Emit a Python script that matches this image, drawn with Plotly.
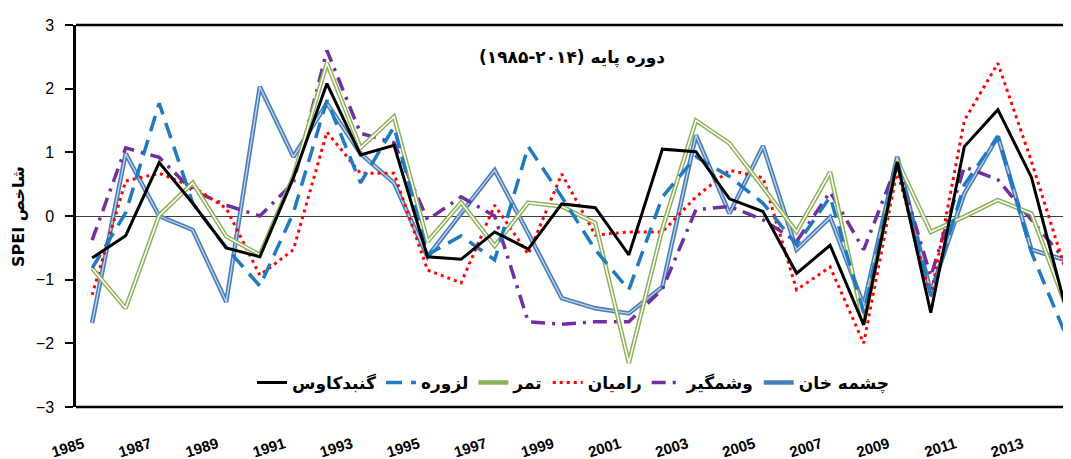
import plotly.graph_objects as go

years = list(range(1985, 2015))

gonbad = [-0.66, -0.31, 0.84, 0.2, -0.5, -0.64, 0.6, 2.08, 0.96, 1.11, -0.64, -0.68, -0.25, -0.52, 0.19,
          0.13, -0.61, 1.05, 1.01, 0.27, 0.07, -0.9, -0.46, -1.71, 0.85, -1.52, 1.09, 1.67, 0.61, -1.4]
lazure = [-0.82, 0.05, 1.77, 0.2, -0.5, -1.1, 0.05, 1.82, 0.52, 1.4, -0.61, -0.31, -0.69, 1.09, 0.3,
          -0.53, -1.16, 0.3, 0.93, 0.62, 0.2, -0.45, 0.3, -1.52, 0.88, -1.25, 0.49, 1.25, -0.57, -1.84]
tamar = [-0.82, -1.45, 0.01, 0.52, -0.32, -0.61, 0.62, 2.4, 1.07, 1.56, -0.4, 0.21, -0.47, 0.21, 0.15,
         -0.11, -2.31, -0.2, 1.5, 1.14, 0.45, -0.25, 0.69, -1.68, 0.87, -0.25, -0.01, 0.25, 0.04, -1.37]
ramian = [-1.24, 0.55, 0.67, 0.46, 0.12, -0.93, -0.53, 1.32, 0.67, 0.67, -0.85, -1.05, 0.17, -0.6, 0.66,
          -0.3, -0.25, -0.25, 0.3, 0.72, 0.6, -1.16, -0.8, -2.0, 0.72, -1.27, 1.5, 2.4, 0.86, -0.82]
voshmgir = [-0.38, 1.07, 0.92, 0.4, 0.17, 0.0, 0.52, 2.6, 1.3, 1.15, -0.06, 0.3, 0.0, -1.66, -1.7,
            -1.66, -1.66, -1.15, 0.1, 0.15, -0.06, -0.4, 0.38, -0.53, 0.82, -0.95, 0.77, 0.57, -0.06, -0.69]
cheshme = [-1.68, 0.98, 0.0, -0.22, -1.35, 2.03, 0.93, 1.77, 0.98, 0.52, -0.64, 0.05, 0.72, -0.27, -1.29,
           -1.45, -1.53, -1.11, 1.27, 0.04, 1.1, -0.53, -0.02, -1.4, 0.93, -1.2, 0.35, 1.25, -0.53, -0.69]

names = ["گنبدکاوس", "لزوره", "تمر", "رامیان", "وشمگیر", "چشمه خان"]
xtick_vals = list(range(1985, 2014, 2))
xtick_text = ["<b>%d</b>" % v for v in xtick_vals]
ytick_vals = [-3, -2, -1, 0, 1, 2, 3]

title_text = "<b>(۱۹۸۵-۲۰۱۴) دوره پایه</b>"
ytitle_text = "<b>SPEI شاخص</b>"

fig = go.Figure()

fig.add_trace(go.Scatter(x=years, y=cheshme, mode="lines", name=names[5], legendrank=6,
                         line=dict(color="#4A7EBB", width=4.5)))
fig.add_trace(go.Scatter(x=years, y=cheshme, mode="lines", showlegend=False, hoverinfo="skip",
                         line=dict(color="#C5D5EA", width=1.3)))
fig.add_trace(go.Scatter(x=years, y=voshmgir, mode="lines", name=names[4], legendrank=5,
                         line=dict(color="#7030A0", width=3.5, dash="14px,7px,3px,7px")))
fig.add_trace(go.Scatter(x=years, y=ramian, mode="lines", name=names[3], legendrank=4,
                         line=dict(color="#FF0000", width=3, dash="3px,4px")))
fig.add_trace(go.Scatter(x=years, y=tamar, mode="lines", name=names[2], legendrank=3,
                         line=dict(color="#8DB35A", width=4.5)))
fig.add_trace(go.Scatter(x=years, y=tamar, mode="lines", showlegend=False, hoverinfo="skip",
                         line=dict(color="#FFFFFF", width=1.5)))
fig.add_trace(go.Scatter(x=years, y=lazure, mode="lines", name=names[1], legendrank=2,
                         line=dict(color="#1F7AC2", width=3.5, dash="16px,9px")))
fig.add_trace(go.Scatter(x=years, y=gonbad, mode="lines", name=names[0], legendrank=1,
                         line=dict(color="#000000", width=3)))

# the page body has an 8px margin, so the figure is sized/offset to land on the 1071x459 frame
fig.update_layout(
    width=1063, height=451,
    margin=dict(l=68, r=0, t=17, b=52, autoexpand=False),
    paper_bgcolor="white", plot_bgcolor="white",
    showlegend=True,
    legend=dict(orientation="h", x=0.5, xanchor="center", y=0.063, yanchor="middle",
                font=dict(family="DejaVu Sans", size=17, color="#000000", weight="bold"),
                bgcolor="rgba(0,0,0,0)", traceorder="normal"),
    xaxis=dict(range=[1984.52, 2014.18], tickvals=xtick_vals, ticktext=xtick_text,
               tickangle=-17, showgrid=False, zeroline=False, showline=False, ticks="",
               ticklabelstandoff=25, ticklabelshift=-9, automargin=False,
               tickfont=dict(family="Liberation Sans", size=15, color="#000000")),
    yaxis=dict(range=[-3, 3], tickvals=ytick_vals, showgrid=False, automargin=False,
               zeroline=True, zerolinecolor="#404040", zerolinewidth=1.2,
               showline=True, linecolor="#000000", linewidth=2.5,
               ticks="outside", ticklen=8, tickwidth=1.5, tickcolor="#000000",
               ticklabelstandoff=8,
               tickfont=dict(family="Liberation Sans", size=16, color="#000000")),
    annotations=[
        dict(text=title_text, xref="paper", yref="paper", x=0.498, y=0.914,
             showarrow=False, xanchor="center", yanchor="middle",
             font=dict(family="DejaVu Sans", size=17, color="#000000")),
        dict(text=ytitle_text, xref="paper", yref="paper", x=-0.0583, y=0.5,
             showarrow=False, xanchor="center", yanchor="middle", textangle=-90,
             font=dict(family="DejaVu Sans", size=16, color="#000000")),
    ],
    shapes=[
        dict(type="line", xref="paper", yref="paper", x0=0, x1=1, y0=1, y1=1,
             line=dict(color="#000000", width=2.5)),
        dict(type="line", xref="paper", yref="paper", x0=0, x1=1, y0=0, y1=0,
             line=dict(color="#000000", width=2.5)),
    ],
)

fig.write_html("out.html")
